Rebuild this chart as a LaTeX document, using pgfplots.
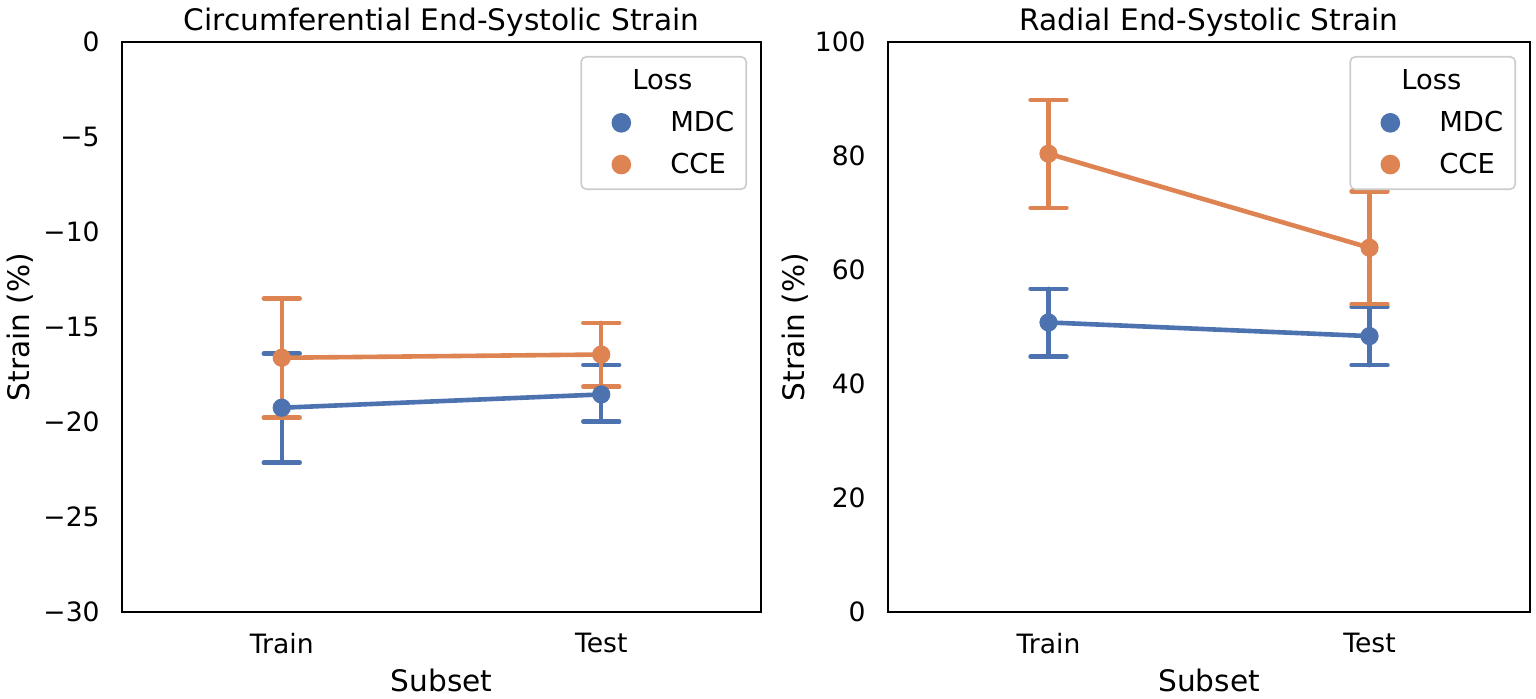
\documentclass[border=0pt]{standalone}
\usepackage{pgfplots}
\pgfplotsset{compat=1.18}
\usepackage{fontspec}
\setmainfont{DejaVu Sans}

\definecolor{mdcblue}{RGB}{76,114,176}
\definecolor{cceorange}{RGB}{221,132,82}
\definecolor{legframe}{RGB}{204,204,204}

\pgfplotsset{
  strainpanel/.style={
    anchor=south west,
    scale only axis,
    height=285pt,
    axis line style={black, line width=1.1pt},
    major tick length=0pt,
    xmin=-0.5, xmax=1.5,
    xtick={0,1}, xticklabels={Train,Test},
    tick label style={font=\fontsize{13.3}{15}\selectfont},
    yticklabel style={anchor=east, inner sep=0pt, xshift=-11pt},
    xticklabel style={anchor=north, inner sep=0pt, yshift=-10.5pt},
    xlabel={Subset},
    ylabel={Strain (\%)},
    label style={font=\fontsize{14.8}{17}\selectfont},
    xlabel style={at={(axis description cs:0.5,-0.121)}, anchor=center},
    every axis title shift=0pt,
    title style={font=\fontsize{14.8}{17}\selectfont, at={(axis description cs:0.5,1.035)}, anchor=center},
    legend style={
      at={(axis description cs:1,1)}, anchor=north east,
      xshift=-7pt, yshift=-7pt,
      draw=legframe, line width=0.8pt, rounded corners=2.5pt,
      fill=white,
      font=\fontsize{13.7}{16}\selectfont,
      row sep=5.2pt, inner xsep=11.5pt, inner ysep=4.5pt,
      /tikz/every odd column/.append style={column sep=18pt},
    },
    legend cell align=left,
  },
  series/.style={
    #1, line width=2.3pt,
    mark=*, mark size=4.3pt, mark options={solid, line width=0.5pt, fill=#1},
    error bars/y dir=both, error bars/y explicit,
    error bars/error bar style={line width=2.2pt, line cap=round},
    error bars/error mark options={rotate=90, line width=2.2pt, mark size=9pt, line cap=round},
  },
}

\newcommand{\lossentries}{%
  \addlegendimage{empty legend}\addlegendentry{\hspace*{-19pt}Loss\hspace*{-7.5pt}}
  \addlegendimage{only marks, mark=*, mark size=4.5pt, mdcblue}\addlegendentry{MDC\hspace*{-7.5pt}}
  \addlegendimage{only marks, mark=*, mark size=4.5pt, cceorange}\addlegendentry{CCE\hspace*{-7.5pt}}
}

\begin{document}
\begin{tikzpicture}
\useasboundingbox (0,0) rectangle (768pt,349.5pt);

% left panel: circumferential strain
\begin{axis}[strainpanel,
  at={(61pt,43.5pt)}, width=319.5pt,
  ymin=-30, ymax=0,
  ytick={-30,-25,-20,-15,-10,-5,0},
  yticklabels={−30,−25,−20,−15,−10,−5,0},
  ylabel style={at={(axis description cs:-0.16,0.5)}, anchor=center},
  title={Circumferential End-Systolic Strain},
]
\lossentries
\addplot[forget plot, series=mdcblue] coordinates {
  (0,-19.25) += (0,2.85) -= (0,2.89)
  (1,-18.55) += (0,1.55) -= (0,1.43)
};
\addplot[forget plot, series=cceorange] coordinates {
  (0,-16.62) += (0,3.12) -= (0,3.15)
  (1,-16.45) += (0,1.67) -= (0,1.69)
};
\end{axis}

% right panel: radial strain
\begin{axis}[strainpanel,
  at={(444pt,43.5pt)}, width=321pt,
  ymin=0, ymax=100,
  ytick={0,20,40,60,80,100},
  ylabel style={at={(axis description cs:-0.145,0.5)}, anchor=center},
  title={Radial End-Systolic Strain},
  /pgf/number format/assume math mode=true,
]
\lossentries
\addplot[forget plot, series=mdcblue] coordinates {
  (0,50.8) += (0,5.9) -= (0,6.0)
  (1,48.4) += (0,5.1) -= (0,5.1)
};
\addplot[forget plot, series=cceorange] coordinates {
  (0,80.4) += (0,9.4) -= (0,9.5)
  (1,63.9) += (0,9.9) -= (0,9.9)
};
\end{axis}
\end{tikzpicture}
\end{document}
